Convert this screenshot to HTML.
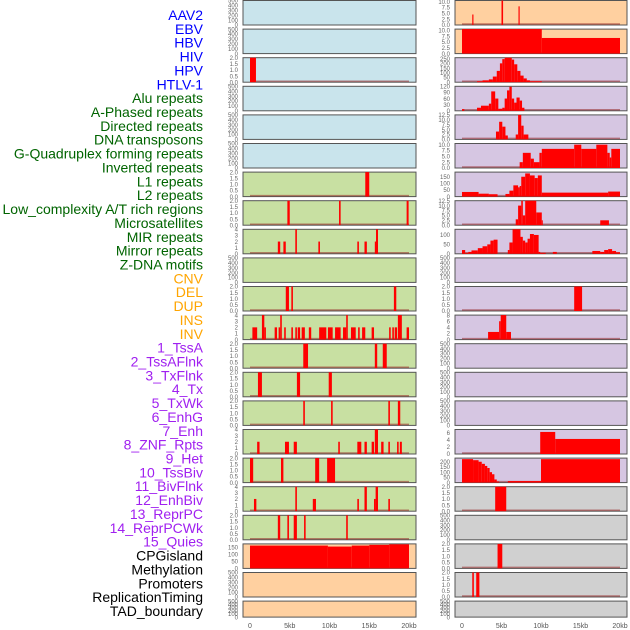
<!DOCTYPE html>
<html><head><meta charset="utf-8"><style>
html,body{margin:0;padding:0;background:#fff;width:630px;height:630px;overflow:hidden}
svg text{font-family:"Liberation Sans",sans-serif}
</style></head><body>
<svg id="chart" width="630" height="630" viewBox="0 0 630 630" xmlns="http://www.w3.org/2000/svg">
<g id="labels"></g>
<g id="panels"></g>
</svg>
<script>
const featureNames = ["AAV2","EBV","HBV","HIV","HPV","HTLV-1","Alu repeats","A-Phased repeats","Directed repeats","DNA transposons","G-Quadruplex forming repeats","Inverted repeats","L1 repeats","L2 repeats","Low_complexity A/T rich regions","Microsatellites","MIR repeats","Mirror repeats","Z-DNA motifs","CNV","DEL","DUP","INS","INV","1_TssA","2_TssAFlnk","3_TxFlnk","4_Tx","5_TxWk","6_EnhG","7_Enh","8_ZNF_Rpts","9_Het","10_TssBiv","11_BivFlnk","12_EnhBiv","13_ReprPC","14_ReprPCWk","15_Quies","CPGisland","Methylation","Promoters","ReplicationTiming","TAD_boundary"];
const featureColors = ["#0000ff","#0000ff","#0000ff","#0000ff","#0000ff","#0000ff","#006400","#006400","#006400","#006400","#006400","#006400","#006400","#006400","#006400","#006400","#006400","#006400","#006400","#FFA500","#FFA500","#FFA500","#FFA500","#FFA500","#A020F0","#A020F0","#A020F0","#A020F0","#A020F0","#A020F0","#A020F0","#A020F0","#A020F0","#A020F0","#A020F0","#A020F0","#A020F0","#A020F0","#A020F0","#000","#000","#000","#000","#000"];
const panelFills = ["#C9E4EC","#C9E4EC","#C9E4EC","#C9E4EC","#C9E4EC","#C9E4EC","#C8E0A2","#C8E0A2","#C8E0A2","#C8E0A2","#C8E0A2","#C8E0A2","#C8E0A2","#C8E0A2","#C8E0A2","#C8E0A2","#C8E0A2","#C8E0A2","#C8E0A2","#FFD0A0","#FFD0A0","#FFD0A0","#FFD0A0","#FFD0A0","#D6C6E2","#D6C6E2","#D6C6E2","#D6C6E2","#D6C6E2","#D6C6E2","#D6C6E2","#D6C6E2","#D6C6E2","#D6C6E2","#D6C6E2","#D6C6E2","#D6C6E2","#D6C6E2","#D6C6E2","#D0D0D0","#D0D0D0","#D0D0D0","#D0D0D0","#D0D0D0"];
const panelMax = [500,500,2,500,500,500,2,2,4,500,2,4,2,2,2,4,2,4,2,175,500,500,
                  10.5,10.5,260,120,12.5,10.5,185,12.5,130,500,2,8,500,500,500,7,235,2,500,2,2,500];
const T500=[0,100,200,300,400,500],T2=[0,0.5,1,1.5,2],T4=[0,1,2,3,4],T10=[0,2.5,5,7.5,10],T125=[0,2.5,5,7.5,10,12.5],T250=[0,50,100,150,200,250],T120=[0,30,60,90,120],T150=[0,50,100,150],T100=[0,50,100],T8=[0,2,4,6,8],T6=[0,2,4,6],T200=[0,50,100,150,200];
const panelTicks = [T500,T500,T2,T500,T500,T500,T2,T2,T4,T500,T2,T4,T2,T2,T2,T4,T2,T4,T2,T150,T500,T500,
                    T10,T10,T250,T120,T125,T10,T150,T125,T100,T500,T2,T8,T500,T500,T500,T6,T200,T2,T500,T2,T2,T500];
// segments: [startKb, endKb, value]
const segHIV = [[0,0.75,2]];
const segAlu = [[14.5,15.0,2]];
const segAPhased = [[4.7,5.0,2],[11.2,11.4,2],[19.7,19.95,2]];
const segDirected = [[3.5,3.8,2],[4.2,4.5,2],[5.7,5.9,4],[8.6,8.8,2],[13.5,13.7,2],[14.4,14.7,2],[15.7,15.85,2],[15.85,16.1,4]];
const segGQuad = [[4.5,4.9,2],[5.2,5.4,2],[18.1,18.4,2]];
const segInverted = [[0.3,0.9,2],[1.5,1.8,4],[1.8,2.0,2],[3.1,3.4,2],[3.6,3.8,2],[3.8,4.0,4],[4.3,4.5,2],[5.2,5.4,2],[5.7,5.9,2],[6.0,6.3,2],[6.5,6.9,2],[7.4,7.7,2],[8.7,9.6,2],[9.8,10.4,2],[10.7,11.4,2],[11.7,12.1,2],[12.1,12.3,4],[12.7,13.3,2],[13.6,13.8,2],[14.1,14.5,2],[15.3,15.6,2],[17.5,17.7,2],[17.9,18.1,2],[18.2,18.5,2],[18.6,19.1,4],[19.7,20,2]];
const segL1 = [[6.7,7.3,2],[15.7,16.0,2],[16.7,17.2,2]];
const segL2 = [[1.0,1.5,2],[5.9,6.3,2],[9.9,10.3,2]];
const segLowComplex = [[6.7,6.9,2],[10.2,10.4,2],[17.4,17.6,2],[18.6,18.9,2]];
const segMicrosat = [[0.9,1.2,2],[4.4,4.9,2],[5.5,5.9,2],[11.1,11.3,2],[13.5,14.0,2],[14.4,14.7,2],[15.3,15.6,2],[15.7,16.1,4],[16.5,16.8,2],[17.4,17.6,2],[18.5,18.7,2],[18.85,19.1,2]];
const segMIR = [[0,0.4,2],[3.9,4.2,2],[8.2,8.7,2],[9.7,10.7,2]];
const segMirror = [[0.5,0.8,2],[5.7,5.9,4],[7.9,8.3,2],[13.5,13.7,2],[14.4,14.7,4],[15.6,15.8,2],[15.8,16.1,4],[17.4,17.6,2]];
const segZDNA = [[3.5,3.8,2],[4.7,4.9,2],[5.5,5.9,2],[6.8,7.0,2],[12.1,12.3,2]];
const segCNV = [[0,9.8,163],[9.8,12.8,156],[12.8,15,163],[15,17.5,168],[17.5,20,172]];
const segINS = [[1.3,1.45,4.5],[5.0,5.2,10.5],[7.15,7.3,8]];
const segINV = [[0,10.1,10.5],[10.1,20,6.7]];
const segTssA = [[1.9,2.6,10],[2.6,3.4,20],[3.4,3.9,30],[3.9,4.4,60],[4.4,4.8,120],[4.8,5.1,200],[5.1,5.4,245],[5.4,6.3,260],[6.3,6.6,240],[6.6,7.0,190],[7.0,7.4,120],[7.4,7.8,70],[7.8,8.2,40],[8.2,8.6,20],[8.6,10.1,10]];
const segTssAFlnk = [[0,0.3,8],[1.9,2.4,15],[2.4,3.4,25],[3.4,3.7,35],[3.7,4.2,95],[4.2,4.6,60],[4.6,5.1,10],[5.1,5.4,15],[5.4,5.7,60],[5.7,6.0,100],[6.0,6.3,118],[6.3,6.6,60],[6.6,6.9,40],[6.9,7.3,65],[7.3,7.6,50],[7.6,7.9,15]];
const segTxFlnk = [[4.3,4.7,4],[4.7,5.1,9],[5.1,5.5,6.5],[5.5,5.8,2],[6.8,7.1,2.5],[7.1,7.5,12.5],[7.5,7.8,7],[7.8,8.4,2.5]];
const segTx = [[7.3,7.7,2.5],[7.7,8.7,6.5],[8.7,9.1,4],[9.1,9.8,2.5],[9.8,10.1,6.5],[10.1,14.2,8.2],[14.2,15.1,10],[15.1,17,8.2],[17,18.4,10],[18.4,18.7,6.5],[18.7,18.9,4.5],[18.9,20,8.2]];
const segTxWk = [[0,2.1,35],[2.1,3.4,22],[3.4,4.5,18],[5.5,6.0,20],[6.0,6.5,45],[6.5,7.1,85],[7.1,7.3,70],[7.3,7.5,80],[7.5,8.0,150],[8.0,8.6,175],[8.6,9.2,160],[9.2,9.6,140],[9.6,10.1,160],[10.1,18.5,30],[18.5,20,38]];
const segEnhG = [[6.8,7.1,3],[7.1,7.5,10],[7.5,7.7,12.5],[7.7,8.0,5],[8.0,9.4,12.5],[9.4,10.1,6.5],[10.1,10.2,2.5],[17.5,18.6,2.5]];
const segEnh = [[0,0.4,20],[0.4,0.8,5],[0.8,1.2,10],[1.2,2.0,18],[2.0,2.6,30],[2.6,3.2,40],[3.2,3.6,50],[3.6,4.0,70],[4.0,4.5,75],[5.8,6.0,20],[6.0,6.4,60],[6.4,7.4,130],[7.4,7.7,90],[7.7,8.0,70],[8.0,8.3,60],[8.3,8.6,80],[8.6,9.1,105],[9.1,9.7,100],[9.7,9.9,10],[9.9,10.6,5],[11.5,12.0,10],[16.5,17.5,15],[17.5,18,10],[18,18.5,20],[18.5,19,25],[19,19.5,15],[19.5,20,8]];
const segHet = [[14.2,15.2,2]];
const segTssBiv = [[3.3,4.7,2.5],[4.7,4.9,6],[4.9,5.6,8],[5.6,6.2,2.5]];
const segReprPCWk = [[9.9,11.8,6.3],[11.8,20,4.3]];
const segQuies = [[0,1.4,225],[1.4,2.1,215],[2.1,2.5,200],[2.5,2.9,180],[2.9,3.2,160],[3.2,3.5,140],[3.5,3.8,100],[3.8,4.1,80],[4.1,4.4,30],[4.4,4.7,10],[5.8,10.0,15],[10.0,20,225]];
const segCPG = [[4.2,5.6,2]];
const segPromoters = [[4.5,5.1,2]];
const segRepTiming = [[1.3,1.5,2],[1.8,2.2,2]];
const EMPTY = null;
const panelSegs = [EMPTY,EMPTY,segHIV,EMPTY,EMPTY,EMPTY,segAlu,segAPhased,segDirected,EMPTY,segGQuad,segInverted,segL1,segL2,segLowComplex,segMicrosat,segMIR,segMirror,segZDNA,segCNV,EMPTY,EMPTY,
                   segINS,segINV,segTssA,segTssAFlnk,segTxFlnk,segTx,segTxWk,segEnhG,segEnh,EMPTY,segHet,segTssBiv,EMPTY,EMPTY,EMPTY,segReprPCWk,segQuies,segCPG,EMPTY,segPromoters,segRepTiming,EMPTY];
const xTickKb = [0,5,10,15,20];
const xTickLabels = ["0","5kb","10kb","15kb","20kb"];

const NS="http://www.w3.org/2000/svg";
function mk(tag,attrs,parent){const e=document.createElementNS(NS,tag);for(const k in attrs)e.setAttribute(k,attrs[k]);parent.appendChild(e);return e;}
const labelsG=document.getElementById('labels');
featureNames.forEach((n,i)=>{
  const t=mk('text',{x:203,y:20+i*13.86,'text-anchor':'end','font-size':14,fill:featureColors[i]},labelsG);
  
  
  t.textContent=n;
});
const panelsG=document.getElementById('panels');
function xScale(col,kb){return col===0?250+kb*7.95:462+kb*7.9;}
function fmt(ticks,v){const dec=ticks.some(t=>t%1!==0);return dec?v.toFixed(1):String(v);}
for(let i=0;i<44;i++){
  const col=i<22?0:1, row=i%22;
  const top=row*28.6+0.5, h=row===21?16:24.5, bot=top+h;
  const x0=col===0?243:455, w=col===0?173:172;
  const g=mk('g',{},panelsG);
  
  
  const bg=mk('rect',{x:x0,y:top,width:w,height:h,fill:panelFills[i],stroke:'#555','stroke-width':1},g);
  
  
  const max=panelMax[i];
  const yS=v=>bot-v/max*h;
  panelTicks[i].forEach(v=>{
    const t=mk('text',{x:238,y:yS(v)+2.2,'text-anchor':'end','font-size':6,fill:'#666'},g);
    
    
    t.textContent=fmt(panelTicks[i],v);
    if(col===1)t.setAttribute('x',450);
  });
  const segs=panelSegs[i];
  if(segs){
    const bl=mk('line',{x1:xScale(col,0),x2:xScale(col,20),y1:bot-1,y2:bot-1,stroke:'rgba(150,40,40,0.55)','stroke-width':1.5},g);
    
    
    segs.forEach(s=>{
      const xa=xScale(col,s[0]),xb=xScale(col,s[1]),y=yS(Math.min(s[2],max));
      const r=mk('rect',{x:xa,y:y,width:Math.max(1,xb-xa),height:bot-y,fill:'#ff0000'},g);
      
      
    });
  }
}
for(let col=0;col<2;col++){
  xTickKb.forEach((kb,k)=>{
    const t=mk('text',{x:xScale(col,kb),y:628,'text-anchor':'middle','font-size':7,fill:'#555'},panelsG);
    
    
    t.textContent=xTickLabels[k];
  });
}
</script>
</body></html>
